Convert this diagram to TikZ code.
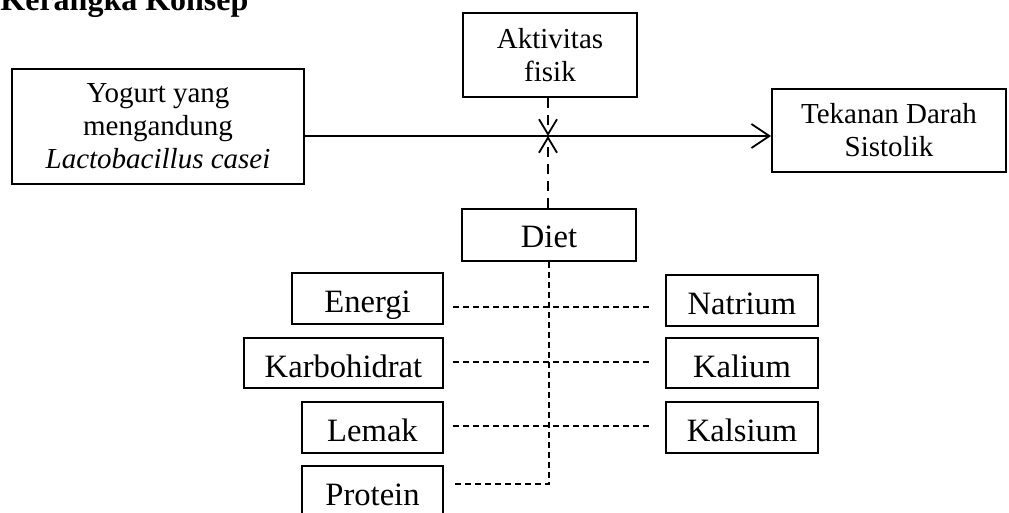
\documentclass[tikz,border=0pt]{standalone}
\usepackage{fontspec}
\setmainfont{Liberation Serif}
\usetikzlibrary{arrows.meta}

\begin{document}
\begin{tikzpicture}[
  x=0.5pt, y=-0.5pt,
  font=\fontsize{14.5}{16.5}\selectfont,
  box/.style={
    draw=black,
    line width=0.9pt,
    align=center,
    inner sep=0pt
  },
  small/.style={font=\fontsize{16.3}{18}\selectfont, text height=14.5pt, text depth=0pt},
  arrow/.style={-{Straight Barb[length=9pt,width=12pt,line width=0.9pt]}, line width=0.9pt},
  darrow/.style={-{Straight Barb[length=7.5pt,width=9pt,line width=0.9pt]}, line width=0.9pt, dash pattern=on 5pt off 3.5pt},
  dline/.style={line width=0.7pt, dash pattern=on 3pt off 2pt}
]

\useasboundingbox (0,0) rectangle (1009,513);
\clip (0,0) rectangle (1009,513);

\node[font=\fontsize{16}{18}\selectfont\bfseries, anchor=base west, inner sep=0pt] (title) at (0,11) {Kerangka Konsep};

\node[box, minimum width=146pt, minimum height=57.5pt] (yogurt) at (158,126.5) {Yogurt yang\\mengandung\\\textit{Lactobacillus casei}};
\node[box, minimum width=87pt, minimum height=42pt] (aktivitas) at (550,55) {Aktivitas\\fisik};
\node[box, minimum width=117pt, minimum height=41.5pt] (tekanan) at (889,130.5) {Tekanan Darah\\Sistolik};
\node[box, small, text height=13pt, minimum width=87pt, minimum height=26pt] (diet) at (549,235) {Diet};

\node[box, small, minimum width=75.5pt, minimum height=25.5pt] (energi) at (367.5,298.5) {Energi};
\node[box, small, minimum width=99.5pt, minimum height=25pt] (karbo) at (343.5,363) {Karbohidrat};
\node[box, small, minimum width=70.5pt, minimum height=25.5pt] (lemak) at (372.5,427.5) {Lemak};
\node[box, small, minimum width=70.5pt, minimum height=25.5pt] (protein) at (372.5,491.5) {Protein};

\node[box, small, minimum width=76pt, minimum height=25.5pt] (natrium) at (742,300.5) {Natrium};
\node[box, small, minimum width=76pt, minimum height=25pt] (kalium) at (742,363) {Kalium};
\node[box, small, minimum width=76pt, minimum height=25.5pt] (kalsium) at (742,427.5) {Kalsium};

\coordinate (mid) at (548,136);
\coordinate (r1) at (549,307);
\coordinate (r2) at (549,362);
\coordinate (r3) at (549,426);
\coordinate (r4) at (549,484);

\draw[arrow] (yogurt.east |- mid) -- (tekanan.west |- mid);
\draw[darrow] (aktivitas.south -| mid) -- (mid);
\draw[darrow] (diet.north -| mid) -- (mid);

\draw[dline] (diet.south -| r1) -- (r4) -- ([xshift=4.5pt]protein.east |- r4);
\draw[dline] ([xshift=4.5pt]energi.east |- r1) -- ([xshift=-6.5pt]natrium.west |- r1);
\draw[dline] ([xshift=4.5pt]karbo.east |- r2) -- ([xshift=-6.5pt]kalium.west |- r2);
\draw[dline] ([xshift=4.5pt]lemak.east |- r3) -- ([xshift=-6.5pt]kalsium.west |- r3);

\end{tikzpicture}
\end{document}
